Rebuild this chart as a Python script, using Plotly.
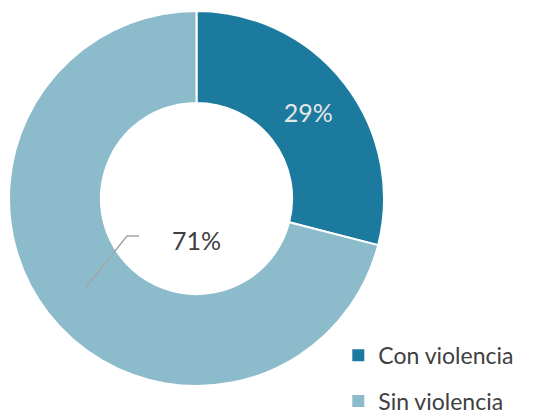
import plotly.graph_objects as go

categories = ["Con violencia", "Sin violencia"]
values = [29, 71]
colors = ["#1b7a9e", "#8cbccb"]

W, H = 537, 414
fig = go.Figure()
fig.add_trace(go.Pie(
    labels=categories,
    values=values,
    hole=0.51,
    sort=False,
    direction="clockwise",
    rotation=0,
    marker=dict(colors=colors, line=dict(color="white", width=2)),
    texttemplate=["%{percent:.0%}", ""],
    textposition="inside",
    insidetextfont=dict(color="#e6e6e6", size=25, family="Lato"),
    insidetextorientation="horizontal",
    hoverinfo="label+percent",
    domain=dict(x=[9/W, 384/W], y=[1-386/H, 1-11/H]),
    showlegend=False,
))

# legend entries (separate groups for spacing)
for i, (cat, col) in enumerate(zip(categories, colors)):
    fig.add_trace(go.Scatter(
        x=[None], y=[None], mode="markers", name=cat,
        marker=dict(symbol="square", size=11, color=col),
        legendgroup=f"g{i}", showlegend=True, hoverinfo="skip",
    ))

# label for the second slice with leader line
fig.add_annotation(
    x=170/W, y=1-240/H, xref="paper", yref="paper",
    text=f"{values[1]}%", showarrow=False,
    font=dict(size=25, color="#404040", family="Lato"),
)
fig.add_shape(
    type="path", xref="paper", yref="paper",
    path=f"M {86/W} {1-287/H} L {127/W} {1-236/H} L {139/W} {1-236/H}",
    line=dict(color="#a6a6a6", width=1.5),
)

fig.update_layout(
    width=W, height=H,
    margin=dict(l=0, r=0, t=0, b=0, autoexpand=False),
    paper_bgcolor="white",
    plot_bgcolor="white",
    xaxis=dict(visible=False),
    yaxis=dict(visible=False),
    legend=dict(
        x=0.63, y=-0.021, xanchor="left", yanchor="bottom",
        font=dict(size=23, color="#404040", family="Lato"),
        itemwidth=30, tracegroupgap=13, traceorder="grouped",
        itemsizing="constant",
        bgcolor="rgba(0,0,0,0)",
    ),
)
fig.write_html("out.html", config={"displayModeBar": False},
               post_script="document.body.style.margin='0';")
